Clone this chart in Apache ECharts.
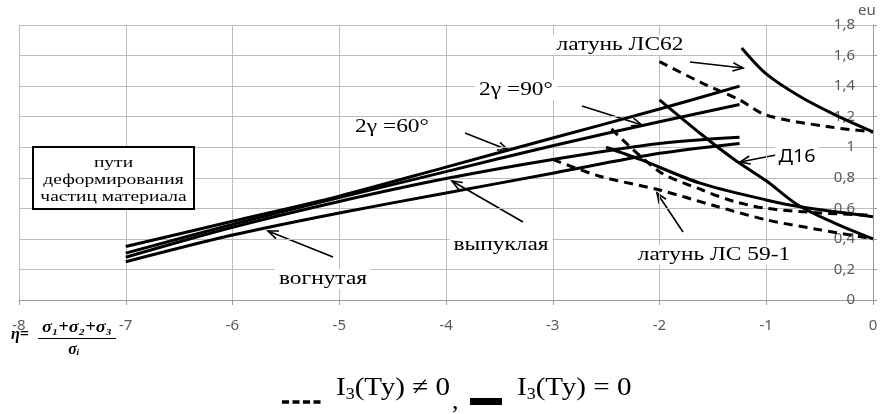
<!DOCTYPE html>
<html>
<head>
<meta charset="utf-8">
<script src="https://cdn.jsdelivr.net/npm/echarts@6/dist/echarts.min.js"></script>
<style>
  html, body { margin: 0; padding: 0; background: #fff; }
  #chart { width: 885px; height: 414px; }
</style>
</head>
<body>
<div id="chart"></div>
<script>
// ============ данные (η, eu) ============
const yTicks = [0, 0.2, 0.4, 0.6, 0.8, 1, 1.2, 1.4, 1.6, 1.8];

// пути деформирования частиц материала
const path60 = [[-7, 0.35], [-6, 0.515], [-5, 0.68], [-4, 0.87], [-3, 1.06], [-2, 1.25], [-1.25, 1.40]];
const path90 = [[-7, 0.307], [-6, 0.495], [-5, 0.67], [-4, 0.84], [-3, 1.01], [-2, 1.167], [-1.25, 1.28]];
const pathConvex = [[-7, 0.28], [-6, 0.476], [-5, 0.645], [-4, 0.795], [-3, 0.92], [-2, 1.025], [-1.25, 1.065]];
const pathConcave = [[-7, 0.25], [-6, 0.425], [-5, 0.57], [-4, 0.70], [-3, 0.83], [-2, 0.96], [-1.25, 1.025]];

// предельные кривые, I3(Ту) = 0
const ls62Solid = [[-1.23, 1.65], [-1, 1.48], [-0.68, 1.33], [-0.35, 1.21], [0, 1.10]];
const d16Solid = [[-2, 1.31], [-1.6, 1.08], [-1.3, 0.92], [-1, 0.78], [-0.7, 0.62], [-0.35, 0.5], [0, 0.40]];
const ls591Solid = [[-2.5, 1.0], [-2.18, 0.92], [-1.62, 0.765], [-1, 0.655], [-0.68, 0.61], [0, 0.545]];

// предельные кривые, I3(Ту) ≠ 0
const ls62Dash = [[-2, 1.56], [-1.6, 1.42], [-1.25, 1.31], [-1, 1.21], [-0.43, 1.135], [0, 1.10]];
const d16Dash = [[-2.45, 1.12], [-2, 0.84], [-1.6, 0.72], [-1.3, 0.645], [-1, 0.6], [-0.5, 0.57], [0, 0.555]];
const ls591Dash = [[-3, 0.92], [-2.56, 0.81], [-2, 0.72], [-1.5, 0.62], [-1, 0.525], [-0.5, 0.46], [0, 0.40]];

const chart = echarts.init(document.getElementById('chart'));

function mkLine(name, data, dashed, smooth) {
  return {
    name: name,
    type: 'line',
    data: data,
    smooth: smooth ? 0.3 : false,
    symbol: 'none',
    silent: true,
    lineStyle: { color: '#000', width: 3, type: dashed ? [9, 6] : 'solid' },
    z: 3,
  };
}

// стрелка-указатель (пиксели разметки)
function arrow(x1, y1, x2, y2) {
  const a = Math.atan2(y2 - y1, x2 - x1);
  const L = 11, w = 0.38;
  return {
    type: 'group',
    z: 20,
    children: [
      { type: 'line', shape: { x1: x1, y1: y1, x2: x2, y2: y2 }, style: { stroke: '#000', lineWidth: 1.6 } },
      { type: 'polyline', shape: { points: [
        [x2 - L * Math.cos(a - w), y2 - L * Math.sin(a - w)], [x2, y2],
        [x2 - L * Math.cos(a + w), y2 - L * Math.sin(a + w)]] },
        style: { stroke: '#000', lineWidth: 1.6, fill: null } },
    ],
  };
}

const serif = '"Liberation Serif", "DejaVu Serif", serif';

function label(text, x, y, opts) {
  opts = opts || {};
  return {
    type: 'text', x: x, y: y, z: 15,
    scaleX: opts.sx || 1.3,
    style: {
      text: text, x: 0, y: 0,
      font: opts.font || '18px ' + serif,
      fill: '#000', align: 'center', verticalAlign: 'middle',
      backgroundColor: opts.bg === false ? null : '#fff',
      padding: opts.pad || [1, 3],
    },
  };
}

chart.setOption({
  animation: false,
  grid: { left: 19, right: 12, top: 25, bottom: 114 },
  xAxis: {
    type: 'value', min: -8, max: 0, interval: 1,
    axisLine: { show: true, onZero: false, lineStyle: { color: '#999', width: 1 } },
    axisTick: { show: true, length: 5, lineStyle: { color: '#999' } },
    axisLabel: { fontSize: 15, color: '#595959', margin: 18, fontFamily: 'Noto Sans' },
    splitLine: { show: true, lineStyle: { color: '#bdbdbd', width: 1 } },
  },
  yAxis: {
    type: 'value', position: 'right', min: 0, max: 1.8, interval: 0.2,
    axisLine: { show: true, lineStyle: { color: '#999', width: 1 } },
    axisTick: { show: true, length: 4, lineStyle: { color: '#999' } },
    axisLabel: {
      inside: true, margin: 18, fontSize: 15, color: '#595959', fontFamily: 'Noto Sans',
      formatter: v => String(+v.toFixed(1)).replace('.', ','),
    },
    splitLine: { show: true, lineStyle: { color: '#bdbdbd', width: 1 } },
  },
  series: [
    mkLine('2γ=60°', path60, false, true),
    mkLine('2γ=90°', path90, false, true),
    mkLine('выпуклая', pathConvex, false, true),
    mkLine('вогнутая', pathConcave, false, true),
    mkLine('латунь ЛС62', ls62Solid, false, true),
    mkLine('Д16', d16Solid, false, true),
    mkLine('латунь ЛС 59-1', ls591Solid, false, true),
    mkLine('латунь ЛС62 ', ls62Dash, true, true),
    mkLine('Д16 ', d16Dash, true, true),
    mkLine('латунь ЛС 59-1 ', ls591Dash, true, true),
  ],
  graphic: [
    // подписи
    label('латунь ЛС62', 620, 45),
    label('2γ =90°', 516, 90),
    label('2γ =60°', 392, 127),
    label('выпуклая', 501, 245),
    label('вогнутая', 323, 279),
    label('латунь ЛС 59-1', 714, 255),
    label('Д16', 797, 157, { font: '18px "Noto Sans", sans-serif', sx: 1.1 }),
    arrow(690, 62, 743, 68),
    arrow(582, 106, 642, 125),
    arrow(465, 133, 508, 150),
    arrow(523, 222, 452, 181),
    arrow(333, 257, 268, 231),
    arrow(683, 232, 657, 193),
    arrow(776, 155, 740, 162),
    // рамка
    { type: 'rect', z: 15, shape: { x: 33, y: 147, width: 161, height: 62 },
      style: { fill: '#fff', stroke: '#000', lineWidth: 2 } },
    label('пути', 113.5, 163, { font: '15px ' + serif, bg: false, sx: 1.3 }),
    label('деформирования', 113.5, 180, { font: '15px ' + serif, bg: false, sx: 1.3 }),
    label('частиц материала', 113.5, 197, { font: '15px ' + serif, bg: false, sx: 1.3 }),
    // ось
    { type: 'text', x: 858, y: 3, z: 15,
      style: { text: 'eu', font: '15px "Noto Sans", sans-serif', fill: '#595959' } },
    { type: 'text', x: 11, y: 335, z: 15,
      style: { text: 'η=', font: 'italic bold 16px ' + serif, fill: '#000', verticalAlign: 'middle' } },
    { type: 'text', x: 77, y: 328, z: 15, scaleX: 1.15,
      style: { text: 'σ₁+σ₂+σ₃', font: 'italic bold 16px ' + serif, fill: '#000', align: 'center', verticalAlign: 'middle' } },
    { type: 'line', z: 15, shape: { x1: 38, y1: 338.5, x2: 116, y2: 338.5 }, style: { stroke: '#000', lineWidth: 1.2 } },
    { type: 'text', x: 74, y: 350, z: 15,
      style: { text: 'σᵢ', font: 'italic bold 16px ' + serif, fill: '#000', align: 'center', verticalAlign: 'middle' } },
    // условные обозначения
    { type: 'line', z: 15, shape: { x1: 282, y1: 402, x2: 322, y2: 402 },
      style: { stroke: '#000', lineWidth: 3.5, lineDash: [7, 3.5] } },
    { type: 'text', x: 336, y: 388, z: 15, scaleX: 1.12,
      style: { text: '{a|I}{s|3}{a|(Ту) ≠ 0}', verticalAlign: 'middle',
        rich: { a: { font: '26px ' + serif, fill: '#000', lineHeight: 30, verticalAlign: 'middle' },
                s: { font: '16px ' + serif, fill: '#000', lineHeight: 30, verticalAlign: 'bottom' } } } },
    { type: 'text', x: 452, y: 402, z: 15,
      style: { text: ',', font: '26px ' + serif, fill: '#000', verticalAlign: 'middle' } },
    { type: 'rect', z: 15, shape: { x: 470, y: 398, width: 32, height: 7 }, style: { fill: '#000' } },
    { type: 'text', x: 517, y: 388, z: 15, scaleX: 1.12,
      style: { text: '{a|I}{s|3}{a|(Ту) = 0}', verticalAlign: 'middle',
        rich: { a: { font: '26px ' + serif, fill: '#000', lineHeight: 30, verticalAlign: 'middle' },
                s: { font: '16px ' + serif, fill: '#000', lineHeight: 30, verticalAlign: 'bottom' } } } },
  ],
});
</script>
</body>
</html>
